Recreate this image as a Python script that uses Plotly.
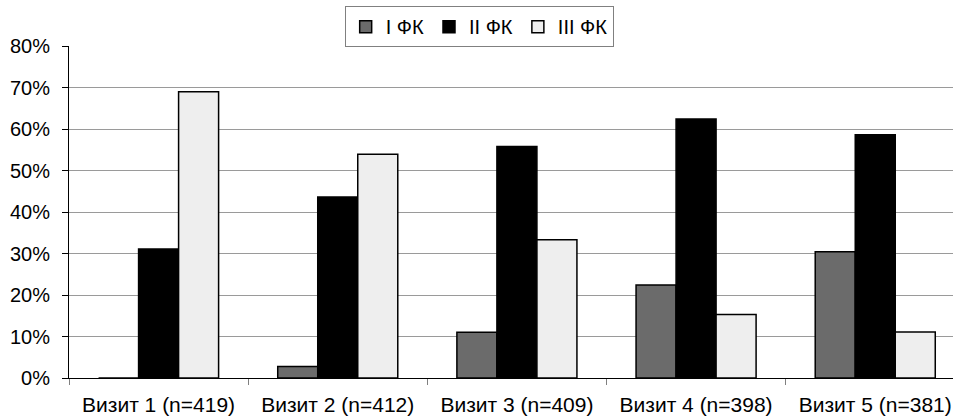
import plotly.graph_objects as go

# Visits and functional-class shares
visits = ["Визит 1 (n=419)", "Визит 2 (n=412)", "Визит 3 (n=409)",
          "Визит 4 (n=398)", "Визит 5 (n=381)"]
fk1 = [0.0, 0.028, 0.110, 0.224, 0.304]
fk2 = [0.311, 0.436, 0.558, 0.624, 0.586]
fk3 = [0.690, 0.539, 0.333, 0.153, 0.111]

series_names = ["I ФК", "II ФК", "III ФК"]
series_colors = ["#6b6b6b", "#000000", "#eeeeee"]

font_family = "Liberation Sans, Arial, Helvetica, sans-serif"

fig = go.Figure()
for name, vals, col in zip(series_names, [fk1, fk2, fk3], series_colors):
    fig.add_trace(go.Bar(
        x=visits, y=vals, name=name,
        marker=dict(color=col, line=dict(color="#000000", width=1.5)),
    ))

fig.update_layout(
    width=953, height=416,
    margin=dict(l=69, r=0, t=46, b=38),
    paper_bgcolor="white", plot_bgcolor="white",
    barmode="group", bargap=0.33, bargroupgap=0,
    font=dict(family=font_family, size=20, color="#000000"),
    showlegend=True,
    legend=dict(
        orientation="h", x=0.464, xanchor="center", y=1.12, yanchor="top",
        bgcolor="white", bordercolor="#808080", borderwidth=1,
        font=dict(size=20), itemwidth=30, tracegroupgap=0,
    ),
    xaxis=dict(
        range=[-0.5, 4.434], showgrid=False,
        showline=True, linecolor="#000000", linewidth=1,
        ticks="outside", tickson="boundaries", ticklen=6, tickcolor="#808080",
        tickfont=dict(size=21), ticklabelstandoff=8, fixedrange=True,
    ),
    yaxis=dict(
        range=[0, 0.8], dtick=0.1, tickformat=".0%",
        showgrid=True, gridcolor="#9a9a9a", gridwidth=1,
        showline=True, linecolor="#000000", linewidth=1,
        ticks="outside", ticklen=6, tickcolor="#000000",
        tickfont=dict(size=20), ticklabelstandoff=8,
        zeroline=False, fixedrange=True,
    ),
)

fig.write_html("out.html")
